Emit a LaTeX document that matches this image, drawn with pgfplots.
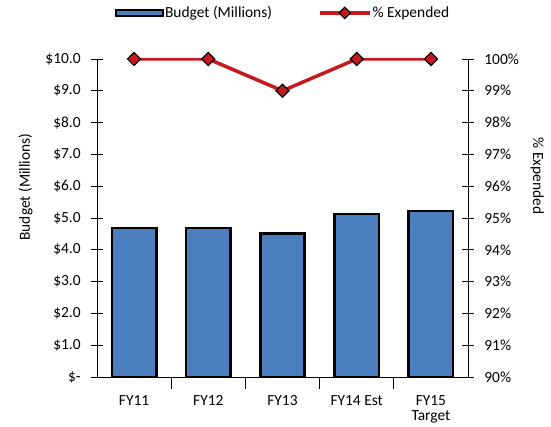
\documentclass[border=0pt]{standalone}
\usepackage{pgfplots}
\pgfplotsset{compat=1.18}
\usepackage{fontspec}
\setmainfont{Carlito}
\definecolor{barblue}{HTML}{4A7EBF}
\definecolor{linered}{HTML}{C8181F}
\begin{document}
\fontsize{15.5}{18}\selectfont
\begin{tikzpicture}
\begin{axis}[
  at={(0,0)}, anchor=south west,
  width=371bp, height=318bp, scale only axis,
  xmin=-0.5, xmax=4.5, ymin=0, ymax=10,
  axis x line*=bottom, axis y line*=left,
  axis line style={-, black, line width=0.9bp},
  xtick={0,1,2,3,4},
  xticklabels={FY11, FY12, FY13, FY14 Est, {FY15\\Target}},
  xticklabel style={align=center, font=\fontsize{15.5}{15}\selectfont, yshift=-1bp},
  major x tick style={draw=none},
  minor xtick={0.5,1.5,2.5,3.5},
  minor tick length=12bp,
  ytick={0,1,...,10},
  yticklabels={\$-, \$1.0, \$2.0, \$3.0, \$4.0, \$5.0, \$6.0, \$7.0, \$8.0, \$9.0, \$10.0},
  yticklabel style={xshift=-5bp},
  major tick length=12bp,
  tick align=center,
  tick style={black, line width=0.9bp},
  /pgf/number format/assume math mode=true,
  ybar, bar width=0.6,
]
\addplot[fill=barblue, draw=black, line width=2.6bp] coordinates {(0,4.69) (1,4.69) (2,4.52) (3,5.12) (4,5.22)};
\end{axis}
\begin{axis}[
  at={(0,0)}, anchor=south west,
  width=371bp, height=318bp, scale only axis,
  xmin=-0.5, xmax=4.5, ymin=90, ymax=100,
  axis x line=none, axis y line*=right,
  axis line style={-, black, line width=0.9bp},
  ytick={90,91,...,100},
  yticklabels={90\%,91\%,92\%,93\%,94\%,95\%,96\%,97\%,98\%,99\%,100\%},
  yticklabel style={xshift=5bp},
  major tick length=12bp,
  tick align=center,
  tick style={black, line width=0.9bp},
  /pgf/number format/assume math mode=true,
  legend columns=2,
  legend style={draw=none, fill=none, at={(0.5,1.145)}, anchor=center,
    /tikz/every even column/.append style={column sep=45bp},
    nodes={inner sep=1bp}},
]
\addlegendimage{legend image code/.code={\draw[fill=barblue, draw=black, line width=2.2bp] (0bp,-3bp) rectangle (47bp,3bp);}}
\addlegendentry{Budget (Millions)}
\addplot[linered, line width=3.5bp, mark=square*, mark size=4.6bp,
  mark options={rotate=45, fill=linered, draw=black, line width=1.2bp},
  legend image code/.code={\draw[linered, line width=3.5bp] (0bp,0bp) -- (50bp,0bp);
    \draw[fill=linered, draw=black, line width=1.2bp, rotate around={45:(25bp,0bp)}] (21bp,-4bp) rectangle (29bp,4bp);}]
  coordinates {(0,100) (1,100) (2,99) (3,100) (4,100)};
\addlegendentry{\% Expended}
\end{axis}
\node[rotate=90, anchor=base] at (-67bp,190bp) {Budget (Millions)};
\node[rotate=-90, anchor=base] at (436bp,201bp) {\% Expended};
\pgfresetboundingbox
\useasboundingbox (-97bp,-50bp) rectangle (454bp,377bp);
\end{tikzpicture}
\end{document}
